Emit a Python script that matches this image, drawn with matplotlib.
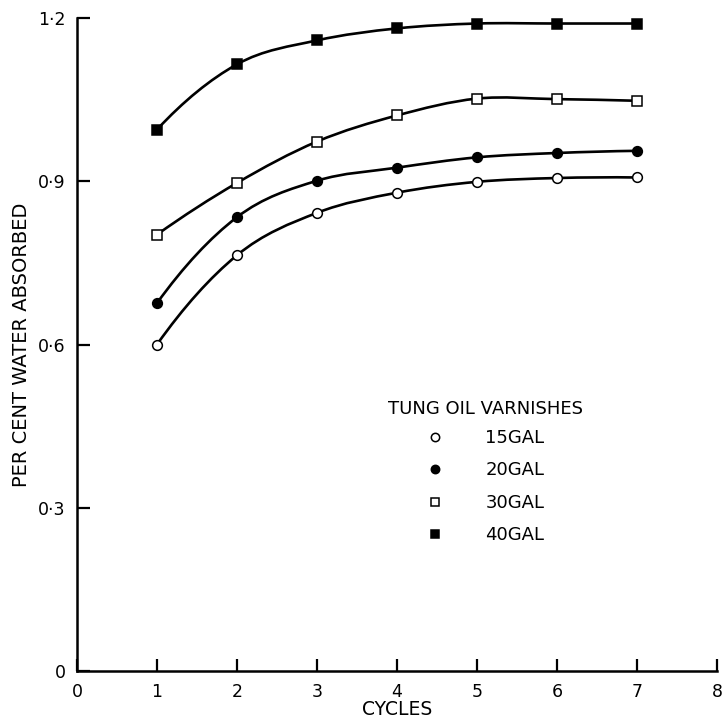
import matplotlib
matplotlib.use('Agg')
import matplotlib.pyplot as plt
import numpy as np
from matplotlib.path import Path
from matplotlib.patches import PathPatch
from matplotlib.lines import Line2D

cycles = [1, 2, 3, 4, 5, 6, 7]
gal_15 = [0.600, 0.764, 0.842, 0.879, 0.899, 0.906, 0.907]
gal_20 = [0.676, 0.834, 0.901, 0.925, 0.944, 0.952, 0.956]
gal_30 = [0.802, 0.897, 0.973, 1.021, 1.052, 1.051, 1.048]
gal_40 = [0.995, 1.115, 1.159, 1.181, 1.190, 1.190, 1.190]

series = [
    ('15 GAL', gal_15, 'o', 'white'),
    ('20 GAL', gal_20, 'o', 'black'),
    ('30 GAL', gal_30, 's', 'white'),
    ('40 GAL', gal_40, 's', 'black'),
]

xticks = [0, 1, 2, 3, 4, 5, 6, 7, 8]
yticks = [0, 0.3, 0.6, 0.9, 1.2]
ytick_labels = ['0', '0\u00b73', '0\u00b76', '0\u00b79', '1\u00b72']


def smooth_path(xs, ys):
    # smooth curve through the points as cubic bezier segments
    pts = np.column_stack([xs, ys]).astype(float)
    n = len(pts)
    tang = np.zeros_like(pts)
    for i in range(1, n - 1):
        tang[i] = (pts[i + 1] - pts[i - 1]) / 2.0
    # parabolic end conditions so the ends keep their curvature
    tang[0] = 2 * (pts[1] - pts[0]) - tang[1]
    tang[-1] = 2 * (pts[-1] - pts[-2]) - tang[-2]
    verts = [pts[0]]
    codes = [Path.MOVETO]
    for i in range(n - 1):
        verts += [pts[i] + tang[i] / 3.0, pts[i + 1] - tang[i + 1] / 3.0, pts[i + 1]]
        codes += [Path.CURVE4] * 3
    return Path(verts, codes)


fig = plt.figure(figsize=(7.22, 7.23), dpi=100)
ax = fig.add_axes([0.1066, 0.072, 0.8864, 0.903])

handles = []
for label, vals, mk, fc in series:
    ax.add_patch(PathPatch(smooth_path(cycles, vals), fill=False,
                           edgecolor='black', lw=1.9, zorder=2))
    ax.plot(cycles, vals, ls='none', marker=mk, ms=6.5 if mk == 's' else 7,
            mfc=fc, mec='black', mew=1.1, zorder=3)
    handles.append(Line2D([], [], ls='none', marker=mk, ms=5.5 if mk == 's' else 6,
                          mfc=fc, mec='black', mew=1.1, label=label.replace(' ', '')))

ax.set_xlim(0, 8)
ax.set_ylim(0, 1.2)
ax.set_xticks(xticks)
ax.set_xticklabels([str(t) for t in xticks])
ax.set_yticks(yticks)
ax.set_yticklabels(ytick_labels)

for s in ['top', 'right']:
    ax.spines[s].set_visible(False)
for s in ['left', 'bottom']:
    ax.spines[s].set_linewidth(1.8)

ax.tick_params(direction='in', length=9, width=1.6, labelsize=12.5, pad=9)
ax.tick_params(axis='y', pad=8)

ax.set_xlabel('CYCLES', fontsize=13.5, labelpad=-1)
ax.set_ylabel('PER CENT WATER ABSORBED', fontsize=14, labelpad=5)

leg = ax.legend(handles=handles, title='TUNG OIL VARNISHES', frameon=False,
                loc='upper left', bbox_to_anchor=(0.46, 0.44),
                fontsize=13, title_fontsize=13, handlelength=1.0,
                handletextpad=2.3, labelspacing=0.8)
leg._legend_box.sep = 8

fig.savefig('out.png', dpi=100)
